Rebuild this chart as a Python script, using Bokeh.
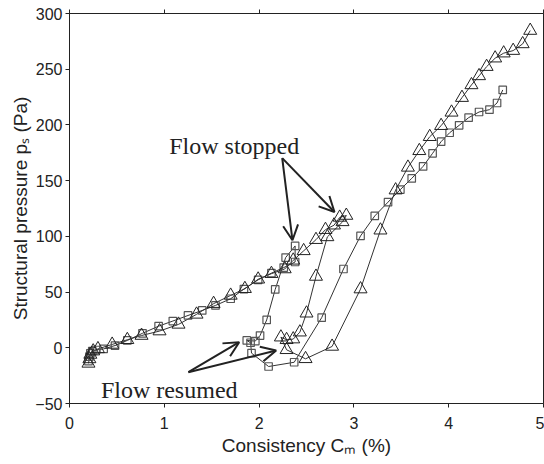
from bokeh.plotting import figure
from bokeh.models import (LinearAxis, Range1d, FixedTicker, Arrow, OpenHead,
                          ColumnDataSource, Label, CustomJSTickFormatter)
from bokeh.embed import file_html
from bokeh.resources import INLINE

# ---- data ----
sq_x = [0.20, 0.21, 0.22, 0.24, 0.28, 0.36, 0.48, 0.61, 0.77, 0.94, 1.09, 1.25, 1.40,
        1.54, 1.70, 1.84, 1.99, 2.13, 2.26, 2.38, 2.38, 2.28, 2.17, 2.08, 2.01, 1.96,
        1.87, 1.91, 1.92, 2.10, 2.37, 2.66, 2.89, 3.07, 3.22, 3.36, 3.49, 3.61, 3.73,
        3.83, 3.92, 4.01, 4.11, 4.21, 4.32, 4.43, 4.51, 4.57]
sq_y = [-12, -8, -5, -3, -2, -1, 2, 6.6, 13, 19.4, 24, 29, 33.5,
        38, 44, 52.7, 61, 67, 72, 77, 91.4, 81, 52.4, 25, 11, 6,
        6.6, 4.5, -4.8, -16.8, -13, 27, 70.7, 100.4, 118.3, 130.7, 142, 152, 162.8,
        174.5, 185, 193, 199.6, 206.5, 211.6, 213.7, 219.7, 231.4]

tri_x = [0.20, 0.21, 0.22, 0.25, 0.30, 0.45, 0.61, 0.76, 0.95, 1.15, 1.34, 1.52, 1.70,
         1.85, 1.99, 2.13, 2.27, 2.36, 2.47, 2.60, 2.70, 2.79, 2.85, 2.92, 2.88, 2.72,
         2.60, 2.50, 2.43, 2.36, 2.29, 2.23, 2.29, 2.49, 2.77, 3.07, 3.28, 3.44, 3.57,
         3.69, 3.80, 3.92, 4.03, 4.14, 4.24, 4.32, 4.40, 4.49, 4.58, 4.68, 4.78, 4.86]
tri_y = [-14, -10, -6, -3, -1, 3, 7.2, 11, 15, 21, 30, 39.6, 47,
         53, 61.5, 66.5, 70.7, 78.5, 87, 97, 106, 110, 117, 118.7, 113, 99.5,
         64, 31, 14, 7.8, 7.2, 9.5, -1.8, -9.9, 1.2, 52.7, 105.5, 141.5, 161.9,
         176.8, 189.4, 199.3, 211.3, 224.5, 235.9, 244, 252.3, 259.9, 264.4, 266.7, 272.7, 284.7]

x_ticks = [0, 1, 2, 3, 4, 5]
y_ticks = [-50, 0, 50, 100, 150, 200, 250, 300]

# annotation arrows: (x_start, y_start, x_end, y_end)
stop_arrows_x0 = [2.244, 2.244]
stop_arrows_y0 = [170.2, 170.2]
stop_arrows_x1 = [2.352, 2.795]
stop_arrows_y1 = [96.5, 121.9]
resume_arrows_x0 = [1.254, 1.254]
resume_arrows_y0 = [-21.9, -21.9]
resume_arrows_x1 = [1.79, 2.18]
resume_arrows_y1 = [5.0, -2.4]

label_stop = ("Flow stopped", 1.052, 181.3)
label_resume = ("Flow resumed", 0.331, -37.5)

# ---- figure ----
p = figure(width=544, height=464, output_backend="svg", toolbar_location=None,
           x_range=Range1d(0, 5), y_range=Range1d(-50, 300),
           min_border_left=69, min_border_right=1, min_border_top=13,
           min_border_bottom=61)
p.xgrid.visible = False
p.ygrid.visible = False
p.outline_line_color = "#222222"
p.outline_line_width = 1
p.background_fill_color = "white"
p.border_fill_color = "white"

sans = "Liberation Sans"
for ax in (p.xaxis[0], p.yaxis[0]):
    ax.axis_line_color = "#222222"
    ax.major_tick_line_color = "#222222"
    ax.minor_tick_line_color = None
    ax.major_tick_in = 0
    ax.major_tick_out = 4
    ax.major_label_text_font = sans
    ax.major_label_text_font_size = "16px"
    ax.major_label_text_color = "#222222"
    ax.axis_label_text_font = sans
    ax.axis_label_text_font_size = "19px"
    ax.axis_label_text_font_style = "normal"
    ax.axis_label_text_color = "#222222"

p.xaxis.ticker = FixedTicker(ticks=x_ticks)
p.yaxis.ticker = FixedTicker(ticks=y_ticks)
p.yaxis.major_label_overrides = {-50: "\u221250"}
p.xaxis.axis_label = "Consistency C\u2098 (%)"
p.yaxis.axis_label = "Structural pressure p\u209b (Pa)"
p.xaxis.axis_label_standoff = 3
p.yaxis.axis_label_standoff = 1
p.xaxis.major_label_standoff = 9
p.yaxis.major_label_standoff = 3

top = LinearAxis(ticker=FixedTicker(ticks=x_ticks),
                 formatter=CustomJSTickFormatter(code="return ''"),
                 major_label_text_font_size="1px",
                 major_label_standoff=0,
                 major_tick_in=0, major_tick_out=4, minor_tick_line_color=None,
                 axis_line_color="#222222", major_tick_line_color="#222222")
p.add_layout(top, "above")

src_sq = ColumnDataSource(dict(x=sq_x, y=sq_y))
src_tri = ColumnDataSource(dict(x=tri_x, y=tri_y))

p.line("x", "y", source=src_sq, line_color="#333333", line_width=1)
p.line("x", "y", source=src_tri, line_color="#333333", line_width=1)
p.scatter("x", "y", source=src_sq, marker="square", size=7.5, fill_color=None,
          line_color="#555555", line_width=1.2)
p.scatter("x", "y", source=src_tri, marker="triangle", size=13, fill_color=None,
          line_color="#222222", line_width=1)

for xs, ys, xe, ye in [(stop_arrows_x0, stop_arrows_y0, stop_arrows_x1, stop_arrows_y1),
                       (resume_arrows_x0, resume_arrows_y0, resume_arrows_x1, resume_arrows_y1)]:
    for a, b, c, d in zip(xs, ys, xe, ye):
        p.add_layout(Arrow(end=OpenHead(size=15, line_width=2, line_color="#222222"),
                           x_start=a, y_start=b, x_end=c, y_end=d,
                           line_width=2, line_color="#222222"))

for txt, lx, ly in (label_stop, label_resume):
    p.add_layout(Label(x=lx, y=ly, text=txt, text_font="Liberation Serif",
                       text_font_size="24px", text_color="#222222",
                       text_baseline="alphabetic"))

open("out.html", "w").write(file_html(p, INLINE))
